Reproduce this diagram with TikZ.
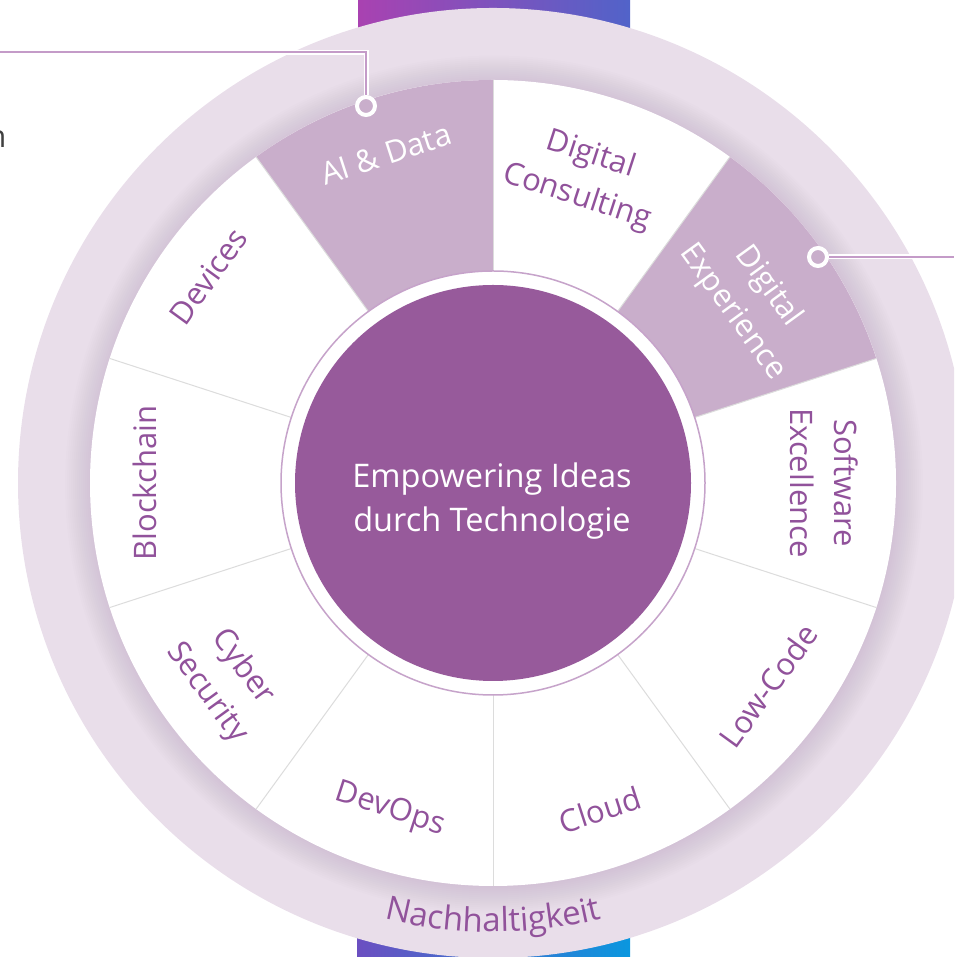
\documentclass[tikz,border=0pt]{standalone}
\usepackage{fontspec}
\setmainfont{Open Sans}
\usetikzlibrary{calc,decorations.text}
\definecolor{ringlight}{HTML}{E9DEEA}
\definecolor{shadowc}{HTML}{5A3A60}
\definecolor{segshade}{HTML}{C9AECB}
\definecolor{gridc}{HTML}{DCDCDC}
\definecolor{outlinec}{HTML}{C6A3CA}
\definecolor{discc}{HTML}{975A9B}
\definecolor{labelc}{HTML}{91529B}
\definecolor{linec}{HTML}{C49BC8}
\definecolor{textgray}{HTML}{404040}
\definecolor{bartl}{HTML}{A942B1}
\definecolor{bartr}{HTML}{5163C9}
\definecolor{barbl}{HTML}{6B4FC1}
\definecolor{barbr}{HTML}{0A97DF}
\newcommand\lblfont{\fontsize{31}{44}\selectfont}
\newcommand\ringfont{\fontsize{33}{44}\selectfont}
\newcommand\ctrfont{\fontsize{32.5}{44}\selectfont}
\begin{document}
\begin{tikzpicture}[x=1pt,y=1pt,
  seglabel/.style={font=\lblfont, text=labelc, align=center, inner sep=0pt},
  seglabelw/.style={seglabel, text=white},
  gridline/.style={draw=gridc, line width=1pt},
  marker/.style={circle, minimum size=18pt, inner sep=0pt, fill=segshade, draw=white, line width=4pt},
  connwhite/.style={draw=white, line width=5pt},
  connline/.style={draw=linec, line width=2pt}]
\useasboundingbox (0,0) rectangle (954,957);
\clip (0,0) rectangle (954,957);
\coordinate (c) at (493,474);
% gradient bars behind
\shade[left color=bartl, right color=bartr] (358,880) rectangle (630,957);
\shade[left color=barbl, right color=barbr] (357,0) rectangle (630,80);
% outer ring
\fill[ringlight] (c) circle[radius=475];
\foreach \i in {0,...,13} {
  \pgfmathsetmacro\rr{403+2*\i}
  \fill[shadowc, opacity=0.009] ($(c)+(1,-1.5)$) circle[radius=\rr];
}
% white disk with segments
\fill[white] (c) circle[radius=403];
\fill[segshade] (c) -- ($(c)+(90:403)$) arc[start angle=90, end angle=126, radius=403] -- cycle;
\fill[segshade] (c) -- ($(c)+(18:403)$) arc[start angle=18, end angle=54, radius=403] -- cycle;
\foreach \a in {90,54,18,-18,-54,-90,-126,-162,162,126}
  \draw[gridline] ($(c)+(\a:212)$) -- ($(c)+(\a:403)$);
% inner circle
\fill[white] (c) circle[radius=212];
\draw[outlinec, line width=1.5pt] (c) circle[radius=212];
\node[circle, fill=discc, minimum size=396pt, inner sep=0pt] (disc) at (c) {};
\node[font=\ctrfont, text=white, align=center, inner sep=0pt] (ctr) at (492,456) {Empowering Ideas\\durch Technologie};
% segment labels
\node[seglabelw, rotate=18] (ai) at ($(c)+(108:346)$) {AI \& Data};
\node[seglabel, rotate=-18] (dc) at ($(c)+(73.5:320)$) {Digital\\Consulting};
\node[seglabelw, rotate=-54] (dx) at ($(c)+(35.5:316)$) {Digital\\Experience};
\node[seglabel, rotate=-90] (se) at ($(c)+(0:331)$) {Software\\Excellence};
\node[seglabel, rotate=54] (lc) at ($(c)+(-36.4:342)$) {Low-Code};
\node[seglabel, rotate=18] (cl) at ($(c)+(-71.9:344)$) {Cloud};
\node[seglabel, rotate=-18] (dv) at ($(c)+(-107.5:343)$) {DevOps};
\node[seglabel, rotate=-54] (cs) at ($(c)+(-143.7:333)$) {Cyber\\Security};
\node[seglabel, rotate=90] (bc) at ($(c)+(180:348)$) {Blockchain};
\node[seglabel, rotate=54] (dvc) at ($(c)+(144:352)$) {Devices};
% ring label
\path[decorate, decoration={text along path, text color=labelc,
  text={|\ringfont|Nachhaltigkeit}, text align=center}]
  ($(c)+(240:449)$) arc[start angle=240, end angle=300, radius=449];
% connectors
\node[marker] (mk1) at (366,851) {};
\node[marker] (mk2) at (818,700) {};
\coordinate (lend) at (0,904.7);
\coordinate (rend) at (954,700);
\draw[connwhite] (lend) -| (mk1);
\draw[connline] (lend) -| (mk1);
\draw[connwhite] (mk2) -- (rend);
\draw[connline] (mk2) -- (rend);
% cut-off text at the left edge
\node[font=\lblfont, text=textgray, anchor=base east, inner sep=0pt] (ntxt) at (6.5,809) {n};
\end{tikzpicture}
\end{document}
